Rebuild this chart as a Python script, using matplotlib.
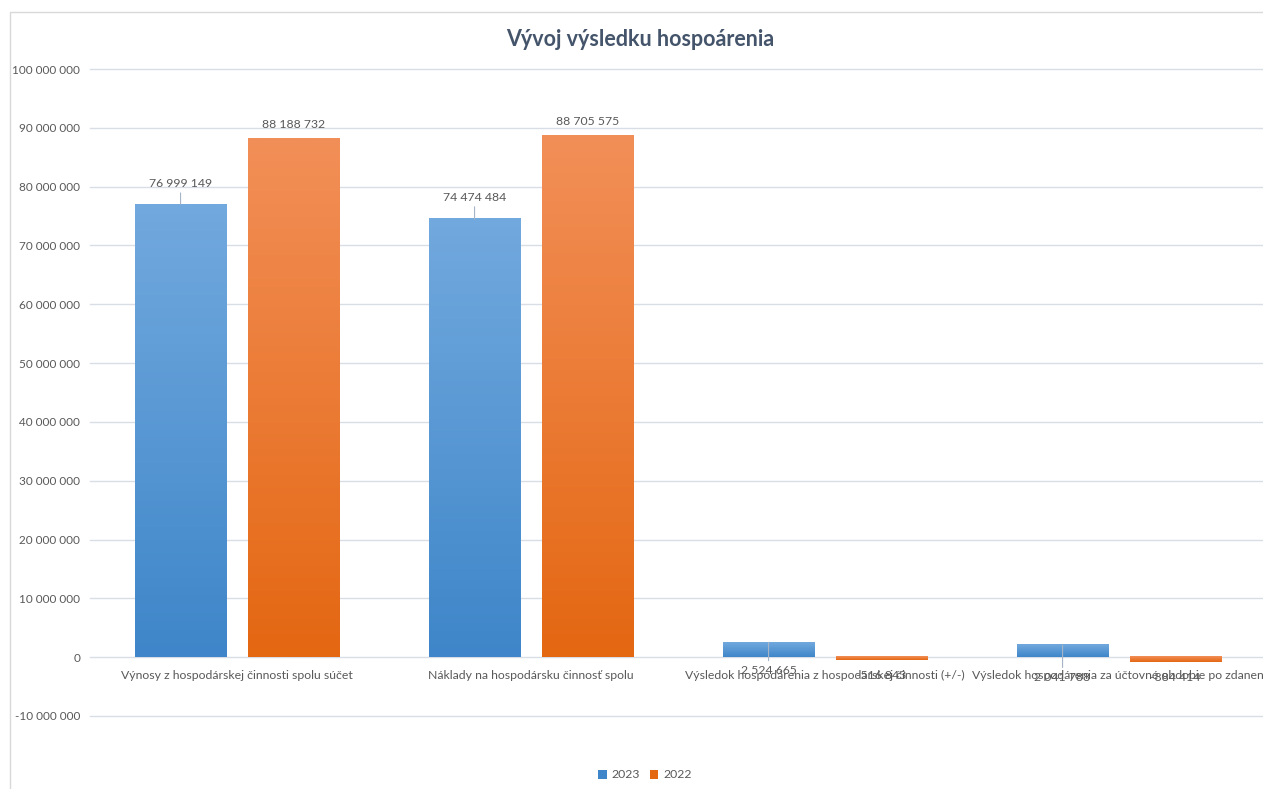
import matplotlib
matplotlib.use("Agg")
import matplotlib.pyplot as plt
from matplotlib.patches import Rectangle, Patch
from matplotlib.colors import to_rgb
import numpy as np

plt.rcParams['font.family'] = ['Lato', 'DejaVu Sans']

title = "Vývoj výsledku hospoárenia"
categories = [
    "Výnosy z hospodárskej činnosti spolu súčet",
    "Náklady na hospodársku činnosť spolu",
    "Výsledok hospodárenia z hospodárskej činnosti (+/-)",
    "Výsledok hospodárenia za účtovné obdobie po zdanení",
]
series_names = ["2023", "2022"]
values_2023 = [76999149, 74474484, 2524665, 2041788]
values_2022 = [88188732, 88705575, -516843, -884414]
yticks = list(range(-10_000_000, 100_000_001, 10_000_000))

# styles
W, H, DPI = 1263, 789, 100
text_col = "#595959"
grid_col = "#d9dee6"
blue_top, blue_bot = "#72a9de", "#3e86c9"
orng_top, orng_bot = "#f28f58", "#e46712"
bar_w = 0.31
offs = [-0.192, 0.192]
lab_dy = [[21, 22, -28, -32], [14, 14, -15, -15]]
leader = [[True, True, True, True], [False, False, False, False]]


def fmt(v):
    s = f"{abs(v):,}".replace(",", " ")
    return ("-" if v < 0 else "") + s


fig = plt.figure(figsize=(W / DPI, H / DPI), dpi=DPI)
fig.patch.set_facecolor("white")

fig.patches.append(Rectangle((10 / W, -0.1), 1.2, 1 - 12 / H + 0.1,
                             transform=fig.transFigure, fill=False,
                             edgecolor="#d9d9d9", linewidth=1.0))

ax = fig.add_axes([90 / W, (H - 716) / H, (1266 - 90) / W, (716 - 69) / H])
ax.set_facecolor("none")
for sp in ax.spines.values():
    sp.set_visible(False)

x = np.arange(len(categories))


def grad_bar(xc, v, ctop, cbot, z=3):
    x0, x1 = xc - bar_w / 2, xc + bar_w / 2
    y0, y1 = min(0, v), max(0, v)
    n = 256
    t = np.linspace(0, 1, n)[:, None]
    c0 = np.array(to_rgb(cbot)); c1 = np.array(to_rgb(ctop))
    img = (c0[None, :] * (1 - t) + c1[None, :] * t)[:, None, :]
    ax.imshow(img, extent=[x0, x1, y0, y1], origin="lower", aspect="auto",
              zorder=z, interpolation="bilinear")


series = [values_2023, values_2022]
cols = [(blue_top, blue_bot), (orng_top, orng_bot)]
for si, vals in enumerate(series):
    for ci, v in enumerate(vals):
        xc = x[ci] + offs[si]
        grad_bar(xc, v, *cols[si])
        dy = lab_dy[si][ci]
        kw = dict(xy=(xc, v), xytext=(0, dy), textcoords="offset pixels",
                  ha="center", va="center", fontsize=8.8, color=text_col, zorder=6)
        if leader[si][ci]:
            kw["arrowprops"] = dict(arrowstyle="-", color="#a6b4c8", lw=0.8,
                                    shrinkA=1, shrinkB=0)
        ax.annotate(fmt(v), **kw)

for ci, c in enumerate(categories):
    ax.annotate(c, xy=(x[ci], 0), xytext=(0, -18), textcoords="offset pixels",
                ha="center", va="center", fontsize=8.8, color=text_col, zorder=5,
                annotation_clip=False)

ax.set_xlim(-0.5, len(categories) - 0.5)
ax.set_ylim(yticks[0], yticks[-1])
ax.set_yticks(yticks)
ax.set_yticklabels([fmt(t) for t in yticks], fontsize=8.5, color=text_col)
ax.set_xticks([])
ax.tick_params(axis="y", length=0, pad=7)
ax.yaxis.grid(True, color=grid_col, linewidth=1.0, zorder=0)
for gl in ax.get_ygridlines():
    gl.set_clip_on(False)
ax.set_axisbelow(True)

fig.text(640 / W, 1 - 40 / H, title, ha="center", va="center", fontsize=15.5,
         fontweight="bold", color="#44546a")

handles = [Patch(facecolor=blue_bot, edgecolor="none"), Patch(facecolor=orng_bot, edgecolor="none")]
fig.legend(handles, series_names, loc="center", bbox_to_anchor=(645 / W, 1 - 775 / H),
           ncol=2, frameon=False, fontsize=8.8, labelcolor=text_col,
           handlelength=0.7, handleheight=0.7, handletextpad=0.4, columnspacing=0.8)

fig.savefig("out.png", dpi=DPI)
